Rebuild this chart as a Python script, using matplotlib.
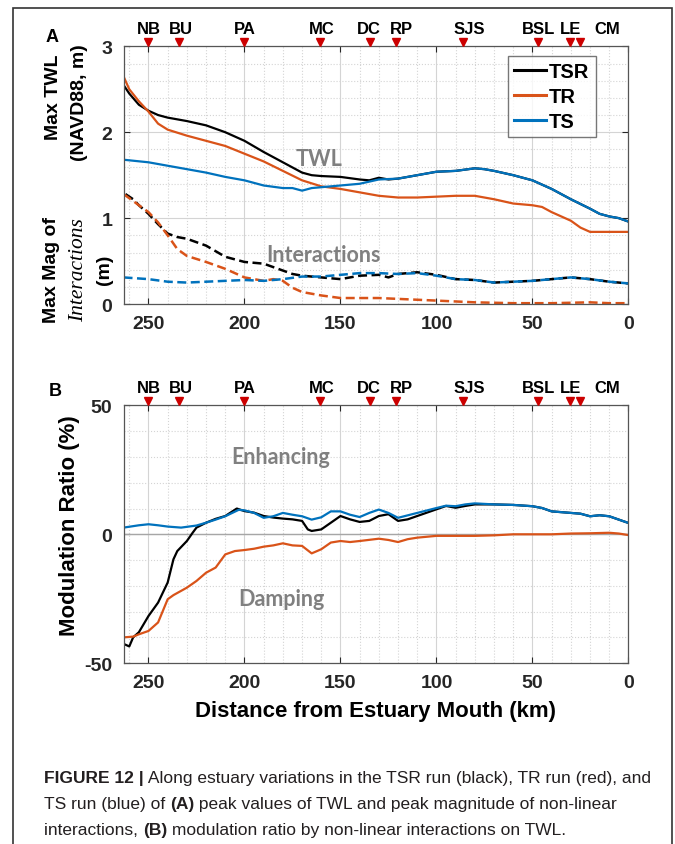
import matplotlib
matplotlib.use('Agg')
import matplotlib.pyplot as plt
from matplotlib.patches import Rectangle
from matplotlib.ticker import MultipleLocator
import matplotlib.transforms as mtransforms

plt.rcParams['font.family'] = ['Liberation Sans', 'DejaVu Sans']
plt.rcParams['axes.unicode_minus'] = False

# stations along the estuary (km from mouth)
STATIONS = ['NB', 'BU', 'PA', 'MC', 'DC', 'RP', 'SJS', 'BSL', 'LE', 'CM']
STATION_KM = [250, 234, 200, 160.5, 134.5, 121, 86, 47, 30.5, 25]
STATION_LABEL_KM = [250, 233, 200, 160, 135, 118, 83, 47, 30, 11]

# panel A: max TWL (solid)
TSR_X = [263, 260, 255, 250, 245, 240, 230, 220, 210, 200, 190, 180, 170, 165, 160, 150, 140, 135, 130, 125,
         120, 110, 100, 90, 80, 75, 70, 60, 50, 40, 30, 20, 15, 10, 5, 0]
TSR_Y = [2.55, 2.45, 2.32, 2.25, 2.2, 2.17, 2.13, 2.08, 2.0, 1.9, 1.77, 1.65, 1.53, 1.5, 1.49, 1.48, 1.45, 1.44, 1.47, 1.45,
         1.46, 1.5, 1.54, 1.55, 1.58, 1.57, 1.55, 1.5, 1.44, 1.34, 1.22, 1.11, 1.05, 1.02, 1.0, 0.96]
TR_X = [263, 260, 255, 250, 245, 240, 230, 220, 210, 200, 190, 180, 170, 160, 150, 140, 130, 120, 110, 100,
        90, 80, 70, 60, 50, 45, 40, 30, 25, 20, 10, 0]
TR_Y = [2.65, 2.5, 2.36, 2.24, 2.1, 2.03, 1.96, 1.9, 1.84, 1.75, 1.66, 1.55, 1.44, 1.37, 1.34, 1.3, 1.26, 1.24, 1.24, 1.25,
        1.26, 1.26, 1.22, 1.17, 1.15, 1.13, 1.07, 0.97, 0.89, 0.84, 0.84, 0.84]
TS_X = [263, 250, 240, 230, 220, 210, 200, 190, 180, 175, 170, 165, 160, 150, 140, 130, 120, 110, 100, 90,
        80, 75, 70, 60, 50, 40, 30, 20, 15, 10, 5, 0]
TS_Y = [1.68, 1.65, 1.61, 1.57, 1.53, 1.48, 1.44, 1.38, 1.35, 1.35, 1.32, 1.35, 1.36, 1.38, 1.40, 1.45, 1.46, 1.50, 1.54, 1.55,
        1.58, 1.57, 1.55, 1.50, 1.44, 1.34, 1.22, 1.11, 1.05, 1.02, 1.0, 0.96]

# panel A: max magnitude of interactions (dashed)
TSR_D_X = [262, 258, 255, 250, 245, 240, 235, 230, 220, 210, 200, 190, 185, 180, 175, 170, 160, 150, 145, 140,
           130, 125, 120, 110, 100, 90, 80, 70, 60, 50, 40, 30, 20, 10, 0]
TSR_D_Y = [1.28, 1.22, 1.15, 1.05, 0.93, 0.82, 0.78, 0.76, 0.68, 0.55, 0.49, 0.47, 0.43, 0.39, 0.35, 0.33, 0.31, 0.29, 0.31, 0.33,
           0.34, 0.31, 0.35, 0.37, 0.34, 0.29, 0.28, 0.25, 0.26, 0.27, 0.29, 0.31, 0.29, 0.26, 0.24]
TR_D_X = [263, 258, 255, 250, 245, 240, 235, 230, 220, 210, 200, 190, 185, 180, 175, 170, 165, 160, 150, 140,
          130, 120, 110, 100, 90, 80, 60, 40, 20, 10, 0]
TR_D_Y = [1.28, 1.2, 1.15, 1.07, 0.95, 0.8, 0.64, 0.56, 0.49, 0.41, 0.31, 0.27, 0.29, 0.27, 0.19, 0.14, 0.12, 0.10, 0.07, 0.07,
          0.07, 0.06, 0.05, 0.04, 0.03, 0.02, 0.01, 0.01, 0.02, 0.01, 0.01]
TS_D_X = [263, 250, 240, 230, 220, 210, 200, 190, 180, 170, 160, 150, 140, 130, 120, 110, 100, 90, 80, 70,
          60, 50, 40, 30, 20, 10, 0]
TS_D_Y = [0.31, 0.29, 0.26, 0.25, 0.26, 0.27, 0.28, 0.27, 0.29, 0.32, 0.32, 0.34, 0.36, 0.36, 0.35, 0.36, 0.33, 0.29, 0.28, 0.25,
          0.26, 0.27, 0.29, 0.31, 0.29, 0.26, 0.24]

# panel B: modulation ratio (%)
B_TSR_X = [263, 260, 258, 255, 250, 245, 240, 237, 235, 230, 227, 225, 220, 215, 210, 204, 200, 195, 190, 185,
           180, 175, 170, 167, 165, 160, 155, 150, 145, 140, 135, 130, 125, 120, 115, 110, 100, 95, 90, 85,
           80, 70, 60, 50, 45, 40, 30, 25, 20, 15, 10, 5, 0]
B_TSR_Y = [-42.5, -43.5, -40, -38, -31.7, -26.5, -18.7, -9.7, -6.5, -2.6, 0.6, 2.6, 4.5, 6.0, 7.1, 10.0, 9.0, 8.4, 7.1, 6.5,
           6.1, 5.8, 5.2, 1.9, 1.3, 1.9, 4.5, 7.1, 5.8, 4.8, 5.2, 7.1, 7.8, 5.2, 5.8, 7.1, 9.7, 11, 10.3, 11,
           11.6, 11.6, 11.4, 10.9, 10.2, 8.9, 8.3, 8.0, 7.0, 7.4, 7.0, 5.7, 4.4]
B_TR_X = [263, 258, 255, 250, 245, 240, 237, 230, 225, 220, 215, 210, 205, 200, 195, 190, 185, 180, 175, 170,
          165, 160, 155, 150, 145, 140, 130, 125, 120, 115, 110, 100, 90, 80, 70, 60, 50, 40, 30, 20,
          10, 5, 0]
B_TR_Y = [-40, -39.7, -38.8, -37.5, -34.2, -25.2, -23.6, -20.7, -18.1, -14.9, -12.9, -7.8, -6.5, -6.1, -5.6, -4.8, -4.3, -3.5, -4.3, -4.5,
          -7.4, -5.8, -3.2, -2.6, -3.0, -2.6, -1.7, -2.2, -3.0, -1.9, -1.3, -0.6, -0.6, -0.6, -0.4, 0, 0, 0, 0.3, 0.4,
          0.6, 0.3, -0.3]
B_TS_X = [263, 255, 250, 245, 240, 233, 225, 220, 215, 210, 203, 200, 195, 190, 185, 180, 175, 170, 165, 160,
          155, 150, 145, 140, 135, 130, 125, 120, 110, 100, 95, 90, 85, 80, 70, 60, 50, 45, 40, 30,
          25, 20, 15, 10, 5, 0]
B_TS_Y = [2.6, 3.5, 3.9, 3.5, 3.0, 2.6, 3.4, 4.5, 5.7, 7.0, 9.5, 9.3, 8.3, 6.4, 7.0, 8.3, 7.6, 7.0, 5.7, 6.6,
          8.9, 8.9, 7.6, 6.7, 8.3, 9.6, 8.3, 6.4, 8.3, 10.2, 11.1, 10.9, 11.6, 12.0, 11.6, 11.4, 10.9, 10.2, 8.9, 8.3,
          8.0, 7.0, 7.4, 7.0, 5.7, 4.4]

BLACK = '#000000'
RED = '#D95319'
BLUE = '#0072BD'
GRAY_TXT = '#808080'
DASH = (0, (3.6, 1.8))
NOTE_FONT = ['Lato', 'DejaVu Sans']


def style_axes(ax, ylim, ymajor, yminor):
    ax.set_xlim(263, 0)
    ax.set_ylim(*ylim)
    ax.xaxis.set_major_locator(MultipleLocator(50))
    ax.xaxis.set_minor_locator(MultipleLocator(10))
    ax.yaxis.set_major_locator(MultipleLocator(ymajor))
    ax.yaxis.set_minor_locator(MultipleLocator(yminor))
    ax.grid(which='major', color='#d4d4d4', lw=0.8, ls='-')
    ax.grid(which='minor', color='#d4d4d4', lw=0.8, ls=':')
    ax.set_axisbelow(True)
    ax.tick_params(which='both', direction='in', top=True, right=True, colors='#262626')
    ax.tick_params(which='major', length=4, labelsize=14, pad=8)
    ax.tick_params(which='minor', length=0)
    for lab in ax.get_xticklabels() + ax.get_yticklabels():
        lab.set_fontweight('bold')
    for sp in ax.spines.values():
        sp.set_color('#555555')
        sp.set_linewidth(0.9)


def add_stations(ax):
    trans = mtransforms.blended_transform_factory(ax.transData, ax.transAxes)
    ax.plot(STATION_KM, [1.017] * len(STATION_KM), ls='none', marker='v', ms=6,
            color='#cc0000', transform=trans, clip_on=False, zorder=5)
    for name, km in zip(STATIONS, STATION_LABEL_KM):
        ax.text(km, 1.04, name, transform=trans, ha='center', va='bottom',
                fontsize=12, fontweight='bold')


fig = plt.figure(figsize=(6.75, 8.45), dpi=100)

# ---------------- panel A ----------------
axA = fig.add_axes([0.183, 0.639, 0.748, 0.305])
axA.plot(TSR_X, TSR_Y, color=BLACK, lw=1.6, label='TSR')
axA.plot(TR_X, TR_Y, color=RED, lw=1.6, label='TR')
axA.plot(TS_X, TS_Y, color=BLUE, lw=1.6, label='TS')
axA.plot(TSR_D_X, TSR_D_Y, color=BLACK, lw=1.8, ls=DASH)
axA.plot(TR_D_X, TR_D_Y, color=RED, lw=1.8, ls=DASH)
axA.plot(TS_D_X, TS_D_Y, color=BLUE, lw=1.8, ls=DASH)
style_axes(axA, (0, 3), 1, 0.2)
add_stations(axA)

axA.text(161, 1.70, 'TWL', color=GRAY_TXT, fontsize=15.5, fontweight='bold',
         family=NOTE_FONT, ha='center', va='center')
axA.text(159, 0.58, 'Interactions', color=GRAY_TXT, fontsize=15.5, fontweight='bold',
         family=NOTE_FONT, ha='center', va='center')

leg = axA.legend(loc='upper right', bbox_to_anchor=(0.935, 0.962), fancybox=False,
                 frameon=True, handlelength=1.6, handletextpad=0.15, borderpad=0.3,
                 labelspacing=0.3, borderaxespad=0,
                 prop={'weight': 'bold', 'size': 14.5})
leg.get_frame().set_edgecolor('#555555')
leg.get_frame().set_linewidth(1.0)
for h in leg.get_lines():
    h.set_linewidth(2.2)

# ---------------- panel B ----------------
axB = fig.add_axes([0.183, 0.214, 0.748, 0.305])
axB.axhline(0, color='#a6a6a6', lw=1.0, zorder=1)
axB.plot(B_TSR_X, B_TSR_Y, color=BLACK, lw=1.6)
axB.plot(B_TR_X, B_TR_Y, color=RED, lw=1.6)
axB.plot(B_TS_X, B_TS_Y, color=BLUE, lw=1.6)
style_axes(axB, (-50, 50), 50, 10)
add_stations(axB)

axB.text(181, 30, 'Enhancing', color=GRAY_TXT, fontsize=15.5, fontweight='bold',
         family=NOTE_FONT, ha='center', va='center')
axB.text(181, -25, 'Damping', color=GRAY_TXT, fontsize=15.5, fontweight='bold',
         family=NOTE_FONT, ha='center', va='center')
axB.set_xlabel('Distance from Estuary Mouth (km)', fontsize=16, fontweight='bold', labelpad=6)


def fx(px):
    return px / 675


def fy(py):
    return 1 - py / 845


# y labels and panel letters
lab_kw = dict(rotation=90, ha='center', va='center', fontweight='bold', fontsize=14)
fig.text(fx(53), fy(97), 'Max TWL', **lab_kw)
fig.text(fx(80), fy(103), '(NAVD88, m)', **lab_kw)
fig.text(fx(52), fy(270), 'Max Mag of', **lab_kw)
fig.text(fx(79), fy(270), 'Interactions', rotation=90, ha='center', va='center',
         fontsize=15.5, style='italic', family=['Liberation Serif', 'DejaVu Serif'])
fig.text(fx(104), fy(270), '(m)', **lab_kw)
fig.text(fx(70), fy(526), 'Modulation Ratio (%)', rotation=90, ha='center', va='center',
         fontweight='bold', fontsize=16)
fig.text(fx(52), fy(37), 'A', fontsize=13, fontweight='bold', ha='center', va='center')
fig.text(fx(55), fy(392), 'B', fontsize=13, fontweight='bold', ha='center', va='center')

# frame around the whole figure
fig.add_artist(Rectangle((fx(13), -0.01), fx(659), 1.01 - 9 / 845, transform=fig.transFigure,
                         fill=False, edgecolor='#333333', lw=1.2))

# caption, written piece by piece so bold parts can be mixed in
CAPTION = [
    [('FIGURE 12 |', True), (' Along estuary variations in the TSR run (black), TR run (red), and', False)],
    [('TS run (blue) of ', False), ('(A)', True), (' peak values of TWL and peak magnitude of non-linear', False)],
    [('interactions, ', False), ('(B)', True), (' modulation ratio by non-linear interactions on TWL.', False)],
]
for i, line in enumerate(CAPTION):
    prev = None
    for txt, bold in line:
        kw = dict(fontsize=12.5, color='#231f20', fontweight='bold' if bold else 'normal',
                  ha='left', va='bottom', annotation_clip=False)
        if prev is None:
            prev = axB.annotate(txt, xy=(fx(44), fy(786 + i * 26)), xycoords='figure fraction', **kw)
        else:
            prev = axB.annotate(txt, xy=(1, 0), xycoords=prev, **kw)

fig.savefig('out.png', dpi=100)
